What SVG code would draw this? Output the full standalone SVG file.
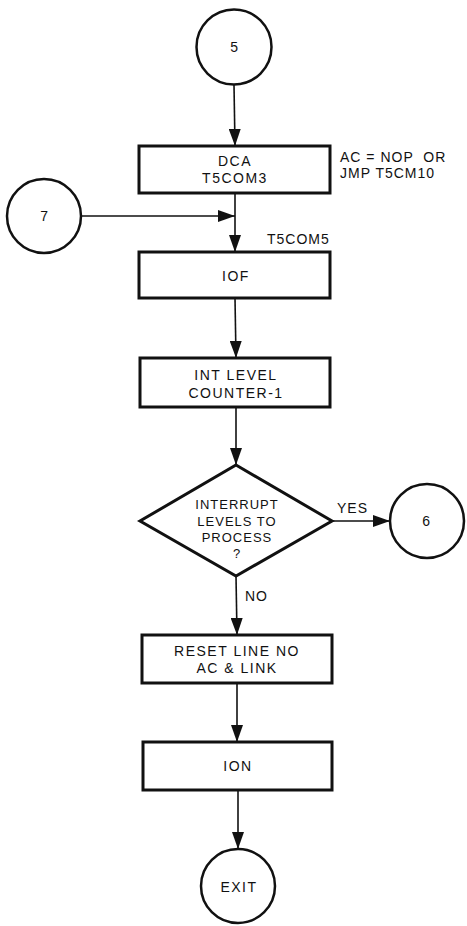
<svg xmlns="http://www.w3.org/2000/svg" width="467" height="926" viewBox="0 0 467 926">
<defs>
<style>
.box{fill:#fff;stroke:#111;stroke-width:3}
.circ{fill:#fff;stroke:#111;stroke-width:2.5}
.dia{fill:#fff;stroke:#111;stroke-width:3;stroke-linejoin:miter}
.t{font-family:"Liberation Sans",Arial,sans-serif;font-size:14px;fill:#111;text-anchor:middle;letter-spacing:1.5px}
.td{font-family:"Liberation Sans",Arial,sans-serif;font-size:13px;fill:#111;text-anchor:middle;letter-spacing:1px}
.lbl{font-family:"Liberation Sans",Arial,sans-serif;font-size:14px;fill:#111;letter-spacing:1px}
.pre{white-space:pre}
.conn line{stroke:#111;stroke-width:1.6;marker-end:url(#arr)}
</style>
<marker id="arr" markerUnits="userSpaceOnUse" markerWidth="17" markerHeight="12" refX="17" refY="6" orient="auto">
<path d="M0,0 L17,6 L0,12 z" fill="#111"/>
</marker>
</defs>
<rect width="467" height="926" fill="#fff"/>
<g id="connectors" class="conn">
<line x1="234" y1="85" x2="235" y2="146"/>
<line x1="235" y1="193" x2="235" y2="252"/>
<line x1="81" y1="216" x2="235" y2="216"/>
<line x1="235" y1="298" x2="236" y2="358"/>
<line x1="236" y1="407" x2="236" y2="465"/>
<line x1="332" y1="521" x2="390" y2="521"/>
<line x1="236" y1="576" x2="237" y2="635"/>
<line x1="237" y1="683" x2="237" y2="742"/>
<line x1="238" y1="790" x2="238" y2="849"/>
</g>
<g id="n5">
<circle class="circ" cx="234" cy="47" r="37.5"/>
<text class="t" x="235" y="52">5</text>
</g>
<g id="dca">
<rect class="box" x="139" y="146" width="191" height="47"/>
<text class="t" x="235" y="166">DCA</text>
<text class="t" x="235" y="183">T5COM3</text>
</g>
<g id="note-ac">
<text class="lbl pre" x="340" y="162">AC = NOP  OR</text>
<text class="lbl" x="340" y="178">JMP T5CM10</text>
</g>
<g id="n7">
<circle class="circ" cx="44" cy="216" r="37"/>
<text class="t" x="45" y="221">7</text>
</g>
<g id="t5com5">
<text class="lbl" x="267" y="244">T5COM5</text>
</g>
<g id="iof">
<rect class="box" x="139" y="252" width="191" height="46"/>
<text class="t" x="236" y="281">IOF</text>
</g>
<g id="intlevel">
<rect class="box" x="140" y="358" width="190" height="49"/>
<text class="t" x="236" y="380">INT LEVEL</text>
<text class="t" x="236" y="398">COUNTER-1</text>
</g>
<g id="decision">
<polygon class="dia" points="236,465 332,521 236,576 140,521"/>
<text class="td" x="237" y="509">INTERRUPT</text>
<text class="td" x="237" y="526">LEVELS TO</text>
<text class="td" x="237" y="542">PROCESS</text>
<text class="td" x="237" y="558">?</text>
</g>
<g id="yes-label">
<text class="lbl" x="337" y="513">YES</text>
</g>
<g id="n6">
<circle class="circ" cx="427" cy="521" r="37"/>
<text class="t" x="427" y="526">6</text>
</g>
<g id="no-label">
<text class="lbl" x="245" y="601">NO</text>
</g>
<g id="reset">
<rect class="box" x="142" y="635" width="190" height="48"/>
<text class="t" x="237" y="656">RESET LINE NO</text>
<text class="t" x="237" y="673">AC &amp; LINK</text>
</g>
<g id="ion">
<rect class="box" x="143" y="742" width="189" height="48"/>
<text class="t" x="238" y="771">ION</text>
</g>
<g id="exit">
<circle class="circ" cx="238" cy="886" r="37"/>
<text class="t" x="239" y="892">EXIT</text>
</g>
</svg>
